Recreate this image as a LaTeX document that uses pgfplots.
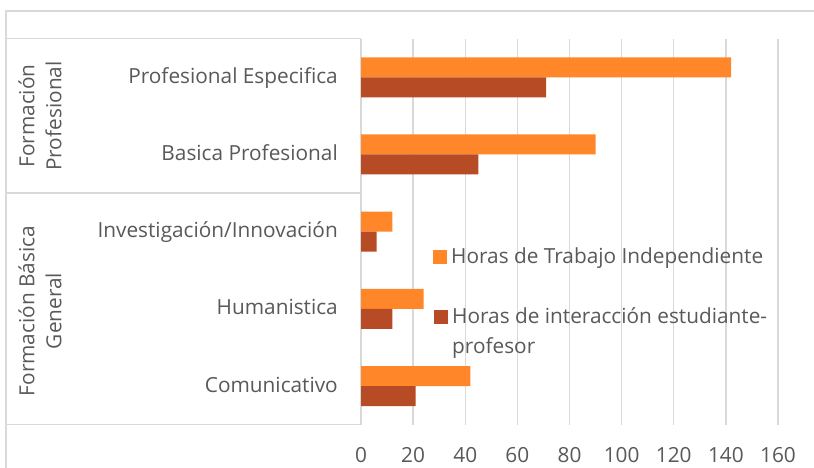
\documentclass[border=0pt]{standalone}
\usepackage{pgfplots}
\pgfplotsset{compat=1.18}
\usepackage{fontspec}
\setmainfont{Open Sans}
\definecolor{txt}{HTML}{595959}
\definecolor{gridc}{HTML}{D9D9D9}
\definecolor{orng}{HTML}{FF8629}
\definecolor{brwn}{HTML}{B64B26}
\newcommand{\cf}{\fontsize{20.8}{27}\selectfont}
\begin{document}
\begin{tikzpicture}[x=1pt,y=1pt]
\useasboundingbox (0,0) rectangle (814,468);
\fill[white] (0,0) rectangle (814,468);
\draw[gridc, line width=1.3pt] (6,-2) -- (6,457) -- (816,457);
\draw[gridc, line width=1.3pt] (6,429.3) -- (361,429.3);
\draw[gridc, line width=1.3pt] (6,274.9) -- (361,274.9);
\draw[gridc, line width=1.3pt] (6,43.4) -- (361,43.4);
\begin{axis}[
  at={(361pt,43.4pt)}, anchor=south west,
  scale only axis, width=417pt, height=385.9pt,
  xmin=0, xmax=160, ymin=-0.5, ymax=4.5,
  xbar, bar width=20pt,
  axis line style={draw=none},
  xtick={0,20,...,160},
  ytick={0,1,2,3,4},
  yticklabels={Comunicativo,Humanistica,Investigación/Innovación,Basica Profesional,Profesional Especifica},
  major tick length=0pt,
  xmajorgrids, ymajorgrids=false,
  grid style={gridc, line width=1.3pt},
  /pgf/number format/assume math mode=true,
  xticklabel style={font=\cf, text=txt, anchor=base, inner sep=0pt, yshift=-38.4pt},
  yticklabel style={font=\cf, text=txt, anchor=base east, inner sep=0pt, xshift=-23pt, yshift=-6pt},
  clip=false,
]
\addplot[fill=orng, draw=none, bar shift=10pt] coordinates {
  (42,0) (24,1) (12,2) (90,3) (142,4)
};
\addplot[fill=brwn, draw=none, bar shift=-10pt] coordinates {
  (21,0) (12,1) (6,2) (45,3) (71,4)
};
\end{axis}
\node[rotate=90, align=center, font=\cf, text=txt, inner sep=0pt] at (40,352) {Formación\\Profesional};
\node[rotate=90, align=center, font=\cf, text=txt, inner sep=0pt] at (40,157) {Formación Básica\\General};
\fill[orng] (433,204) rectangle (447,218);
\node[anchor=base west, inner sep=0pt, font=\cf, text=txt] at (451,204) {Horas de Trabajo Independiente};
\fill[brwn] (434,144) rectangle (448,158);
\node[anchor=base west, inner sep=0pt, font=\cf, text=txt] at (452,144) {Horas de interacción estudiante-};
\node[anchor=base west, inner sep=0pt, font=\cf, text=txt] at (452,114) {profesor};
\end{tikzpicture}
\end{document}
